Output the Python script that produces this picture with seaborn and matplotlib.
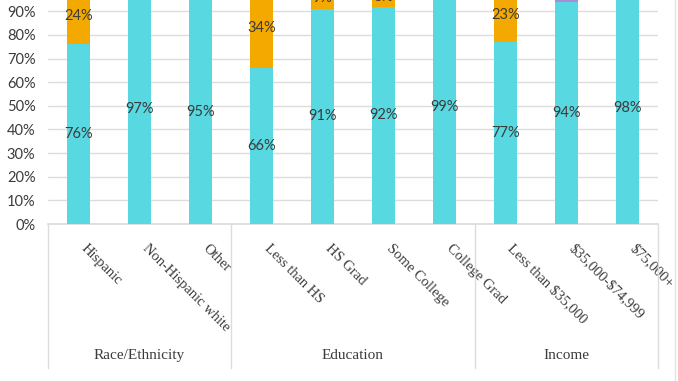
import matplotlib
matplotlib.use('Agg')
import matplotlib.pyplot as plt
import matplotlib.transforms as mtransforms
from matplotlib.lines import Line2D
import numpy as np
import seaborn as sns

# chart data (percent of respondents)
categories = ['Hispanic', 'Non-Hispanic white', 'Other',
              'Less than HS', 'HS Grad', 'Some College', 'College Grad',
              'Less than $35,000', '$35,000-$74,999', '$75,000+']
groups = ['Race/Ethnicity', 'Education', 'Income']
group_sizes = [3, 4, 3]
yes_pct = [76, 97, 95, 66, 91, 92, 99, 77, 94, 98]
other_pct = [0, 0, 1, 0, 0, 0, 0, 0, 1, 0]
no_pct = [24, 3, 4, 34, 9, 8, 1, 23, 5, 2]

teal = '#58D8E1'
purple = '#A98BD9'
orange = '#F4A900'
text_col = '#3b3b3b'
grid_col = '#dcdcdc'

sns.set_theme(style='white')
plt.rcParams['font.family'] = ['Lato', 'DejaVu Sans']

fig = plt.figure(figsize=(6.78, 3.81), dpi=100)
ax = fig.add_axes([48 / 678, 157 / 381, 610 / 678, 224 / 381])

yes = np.array(yes_pct) / 100
mid = yes + np.array(other_pct) / 100
top = mid + np.array(no_pct) / 100

# stacked bars: draw the totals back to front
sns.barplot(x=categories, y=top, color=orange, width=0.39, saturation=1,
            linewidth=0, ax=ax, zorder=3)
sns.barplot(x=categories, y=mid, color=purple, width=0.39, saturation=1,
            linewidth=0, ax=ax, zorder=3)
sns.barplot(x=categories, y=yes, color=teal, width=0.39, saturation=1,
            linewidth=0, ax=ax, zorder=3)

# value labels centred in each segment
for i in range(len(categories)):
    ax.text(i, yes[i] / 2, f'{yes_pct[i]}%', ha='center', va='center',
            fontsize=10.5, color=text_col, zorder=5)
    ax.text(i, mid[i] + no_pct[i] / 200, f'{no_pct[i]}%', ha='center', va='center',
            fontsize=10.5, color=text_col, zorder=5, clip_on=False)

ticks = np.arange(0, 0.91, 0.1)
ax.set_yticks(ticks)
ax.set_yticklabels([f'{int(round(v * 100))}%' for v in ticks],
                   fontsize=10.5, color=text_col)
ax.set_xlim(-0.5, len(categories) - 0.5)
ax.set_ylim(0, 0.948)
ax.yaxis.grid(True, color=grid_col, lw=1, zorder=0)
ax.set_axisbelow(True)
for s in ['top', 'right', 'left']:
    ax.spines[s].set_visible(False)
ax.spines['bottom'].set_color(grid_col)

ax.set_xticks(range(len(categories)))
ax.set_xticklabels([c.replace('$', r'\$') for c in categories], rotation=-45,
                   ha='left', fontsize=10.5, color=text_col,
                   fontfamily=['Liberation Serif', 'DejaVu Serif'])
ax.tick_params(axis='x', length=0, pad=13)
ax.tick_params(axis='y', length=0, pad=9)
ax.set_xlabel('')
ax.set_ylabel('')

# group separators and group names below the axis
trans = mtransforms.blended_transform_factory(ax.transData, ax.transAxes)
edges = np.concatenate([[0], np.cumsum(group_sizes)]) - 0.5
for x in edges:
    ax.plot([x, x], [0, -0.643], transform=trans, clip_on=False, color=grid_col, lw=1)
for g, a, b in zip(groups, edges[:-1], edges[1:]):
    ax.text((a + b) / 2, -0.585, g, transform=trans, ha='center', va='center',
            fontsize=11, color=text_col, fontfamily=['Liberation Serif', 'DejaVu Serif'])

fig.add_artist(Line2D([675 / 678, 675 / 678], [0, 1], transform=fig.transFigure,
                      color='#e4e4e4', lw=1))

fig.savefig('out.png', dpi=100)
